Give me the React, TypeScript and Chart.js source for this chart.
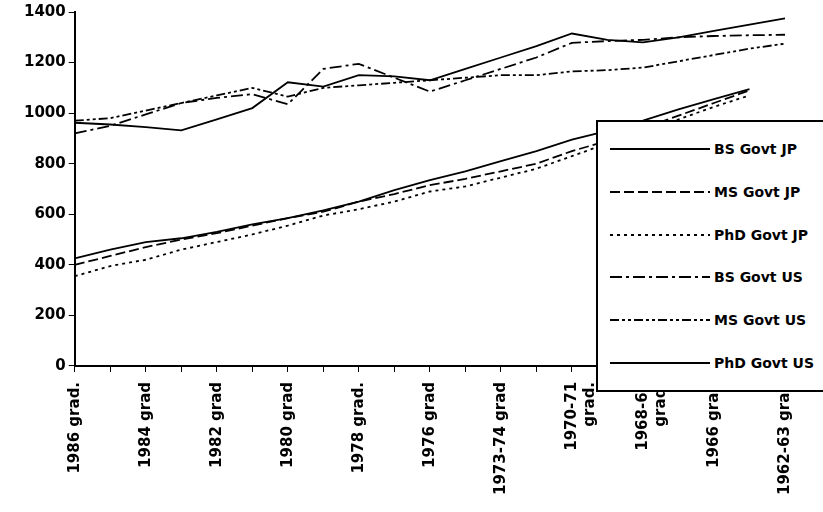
import { useEffect, useRef } from 'react';
import { Chart, registerables } from 'chart.js';

Chart.register(...registerables);

const categories: (string | string[])[] = [
  '1986 grad.', '1985 grad', '1984 grad', '1983 grad', '1982 grad', '1981 grad', '1980 grad',
  '1979 grad', '1978 grad.', '1977 grad', '1976 grad', '1975 grad', '1973-74 grad',
  '1971-72 grad', ['1970-71', 'grad.'], '1969-70 grad', ['1968-69', 'grad.'], '1967 grad',
  '1966 grad', '1964-65 grad', '1962-63 grad',
];

const bsJP = [425, 460, 490, 505, 530, 560, 585, 615, 650, 695, 735, 770, 810, 850, 895, 930, 970, 1015, 1055, 1095, null];
const msJP = [400, 435, 470, 500, 525, 555, 585, 610, 650, 680, 715, 740, 770, 800, 850, 890, 940, 990, 1040, 1090, null];
const phdJP = [355, 395, 420, 460, 490, 520, 555, 595, 620, 650, 690, 710, 745, 780, 830, 880, 930, 975, 1025, 1070, null];
const bsUS = [920, 950, 995, 1040, 1060, 1075, 1035, 1175, 1195, 1140, 1085, 1130, 1175, 1220, 1278, 1285, 1290, 1300, 1305, 1308, 1310];
const msUS = [970, 980, 1010, 1040, 1070, 1100, 1065, 1100, 1110, 1120, 1130, 1140, 1150, 1150, 1165, 1170, 1180, 1205, 1230, 1255, 1275];
const phdUS = [962, 955, 945, 932, 975, 1020, 1122, 1105, 1150, 1145, 1130, 1175, 1220, 1265, 1315, 1290, 1280, 1300, 1325, 1350, 1375];

const yTicks = [0, 200, 400, 600, 800, 1000, 1200, 1400];

const legendItems = [
  { label: 'BS Govt JP', dash: '' },
  { label: 'MS Govt JP', dash: '10 4' },
  { label: 'PhD Govt JP', dash: '3 4' },
  { label: 'BS Govt US', dash: '12 4 3 4' },
  { label: 'MS Govt US', dash: '9 3 3 3 3 3' },
  { label: 'PhD Govt US', dash: '' },
];

const font = { family: 'DejaVu Sans', size: 15, weight: 'bold' as const };

export default function App() {
  const canvasRef = useRef<HTMLCanvasElement>(null);
  const chartRef = useRef<Chart | null>(null);

  useEffect(() => {
    document.body.style.margin = '0';
    if (!canvasRef.current) return;
    if (chartRef.current) chartRef.current.destroy();
    const ds = (label: string, data: (number | null)[], dash: number[]) => ({
      label, data, borderDash: dash, borderColor: '#000', borderWidth: 1.8,
      pointRadius: 0, tension: 0, fill: false,
    });
    chartRef.current = new Chart(canvasRef.current, {
      type: 'line',
      data: {
        labels: categories,
        datasets: [
          ds('BS Govt JP', bsJP, []),
          ds('MS Govt JP', msJP, [10, 4]),
          ds('PhD Govt JP', phdJP, [3, 4]),
          ds('BS Govt US', bsUS, [12, 4, 3, 4]),
          ds('MS Govt US', msUS, [9, 3, 3, 3, 3, 3]),
          ds('PhD Govt US', phdUS, []),
        ],
      },
      options: {
        animation: false,
        responsive: false,
        layout: { padding: { top: 9, right: 38, left: 21, bottom: 7 } },
        plugins: { legend: { display: false }, tooltip: { enabled: false } },
        scales: {
          x: {
            offset: false,
            grid: { display: true, drawOnChartArea: false, color: '#000', tickLength: 6 },
            border: { color: '#000', width: 2 },
            ticks: {
              color: '#000', font, minRotation: 90, maxRotation: 90, autoSkip: false, padding: 10,
              callback: (_v, i) => (i % 2 === 0 ? categories[i] : ''),
            },
          },
          y: {
            min: 0, max: 1400,
            afterBuildTicks: (axis) => { axis.ticks = yTicks.map((v) => ({ value: v })); },
            grid: { display: true, drawOnChartArea: false, color: '#000', tickLength: 6 },
            border: { color: '#000', width: 2 },
            ticks: { color: '#000', font, callback: (v) => String(v) },
          },
        },
      },
    });
    return () => { chartRef.current?.destroy(); };
  }, []);

  return (
    <div style={{ position: 'relative', width: 823, height: 512 }}>
      <canvas ref={canvasRef} width={823} height={512} />
      <div style={{
        position: 'absolute', left: 596, top: 120, width: 227, height: 272, boxSizing: 'border-box',
        borderLeft: '2px solid #000', borderTop: '2px solid #000', borderBottom: '2px solid #000',
        background: '#fff', fontFamily: 'DejaVu Sans', fontSize: 14, fontWeight: 'bold', color: '#000',
        display: 'flex', flexDirection: 'column', justifyContent: 'space-around', padding: '6px 0',
      }}>
        {legendItems.map((it) => (
          <div key={it.label} style={{ display: 'flex', alignItems: 'center' }}>
            <svg width={100} height={10} style={{ marginLeft: 12, marginRight: 4 }}>
              <line x1={0} y1={5} x2={100} y2={5} stroke="#000" strokeWidth={1.8} strokeDasharray={it.dash} />
            </svg>
            <span>{it.label}</span>
          </div>
        ))}
      </div>
    </div>
  );
}
